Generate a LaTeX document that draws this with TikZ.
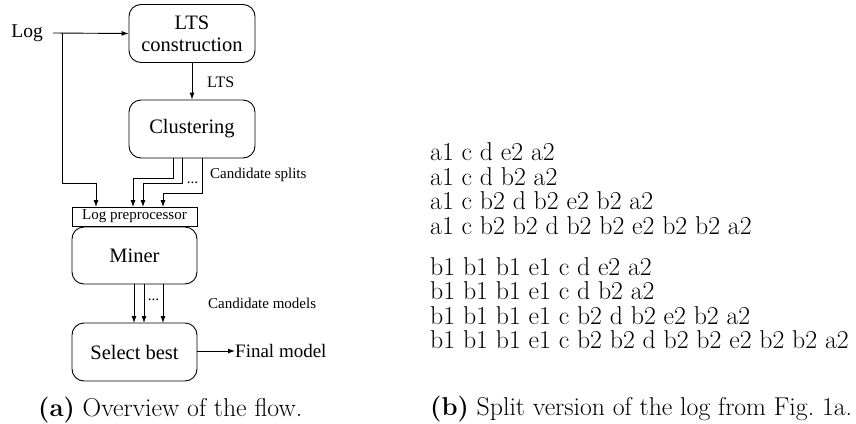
\documentclass[tikz,border=0pt]{standalone}
\usepackage{fontspec}
\newfontfamily\flowfont{Liberation Serif}
\usetikzlibrary{arrows.meta,calc}
\tikzset{
  stage/.style={draw,line width=0.9pt,rounded corners=12pt,minimum width=126pt,minimum height=58pt,inner sep=0pt,align=center,font=\flowfont\fontsize{20.5}{23}\selectfont},
  prebox/.style={draw,line width=0.9pt,minimum width=125pt,minimum height=19pt,inner sep=0pt,font=\flowfont\fontsize{15}{17}\selectfont},
  conn/.style={line width=0.9pt,-{Latex[length=7pt,width=5pt]}},
  lbl/.style={inner sep=0pt,font=\flowfont\fontsize{15}{17}\selectfont},
  trace/.style={anchor=base west,inner sep=0pt,font=\fontsize{25.8}{24.5}\selectfont},
}
\begin{document}
\begin{tikzpicture}[x=1pt,y=-1pt]
\useasboundingbox (0,0) rectangle (856,423);

% flow stages
\node[stage] (lts) at (192,33.5) {LTS\\[-1pt]construction};
\node[stage] (clus) at (192,129) {Clustering};
\node[prebox] (pre) at (134.5,216.5) {Log preprocessor};
\node[stage,minimum width=125pt,minimum height=57pt] (miner) at (134.5,255.5) {Miner};
\node[stage,minimum width=125pt] (sel) at (134.5,352) {Select best};

% input log
\node[inner sep=0pt,anchor=east,font=\flowfont\fontsize{19.5}{22}\selectfont] (log) at (43,33) {Log};
\coordinate (logstart) at (53,33);
\coordinate (br) at (62,33);
\draw[conn] (logstart) -- (lts.west);
\draw[conn] (br) |- (96,183) -- (96,207);

% LTS
\draw[conn] (lts) -- (clus);
\node[lbl,anchor=west,font=\flowfont\fontsize{16}{18}\selectfont] (ltslbl) at (207,82) {LTS};

% candidate splits
\draw[conn] (173,158) |- (133,178) -- (133,207);
\draw[conn] (182,158) |- (143,183) -- (143,207);
\draw[conn] (202,158) |- (163,193) -- (163,207);
\node[lbl] (sdots) at (192.5,183) {...};
\node[lbl,anchor=west] (splbl) at (210,175) {Candidate splits};

% candidate models
\draw[conn] (134,284) -- (134,323);
\draw[conn] (144,284) -- (144,323);
\draw[conn] (163,284) -- (163,323);
\node[lbl] (mdots) at (153.5,300) {...};
\node[lbl,anchor=west] (mdlbl) at (208,303) {Candidate models};

% result
\node[inner sep=0pt,anchor=west,font=\flowfont\fontsize{19}{21}\selectfont] (final) at (235,351) {Final model};
\draw[conn] (sel.east |- final.west) -- (final.west);

\node[trace] (capa) at (38,416) {\textbf{(a)} Overview of the flow.};

% split log
\node[trace] (t1) at (430,160.5) {a1 c d e2 a2};
\node[trace] (t2) at (430,185) {a1 c d b2 a2};
\node[trace] (t3) at (430,209.5) {a1 c b2 d b2 e2 b2 a2};
\node[trace] (t4) at (430,234) {a1 c b2 b2 d b2 b2 e2 b2 b2 a2};
\node[trace] (t5) at (430,275) {b1 b1 b1 e1 c d e2 a2};
\node[trace] (t6) at (430,299.5) {b1 b1 b1 e1 c d b2 a2};
\node[trace] (t7) at (430,324) {b1 b1 b1 e1 c b2 d b2 e2 b2 a2};
\node[trace] (t8) at (430,348.5) {b1 b1 b1 e1 c b2 b2 d b2 b2 e2 b2 b2 a2};

\node[trace] (capb) at (430,415) {\textbf{(b)} Split version of the log from Fig.~1a.};
\end{tikzpicture}
\end{document}
